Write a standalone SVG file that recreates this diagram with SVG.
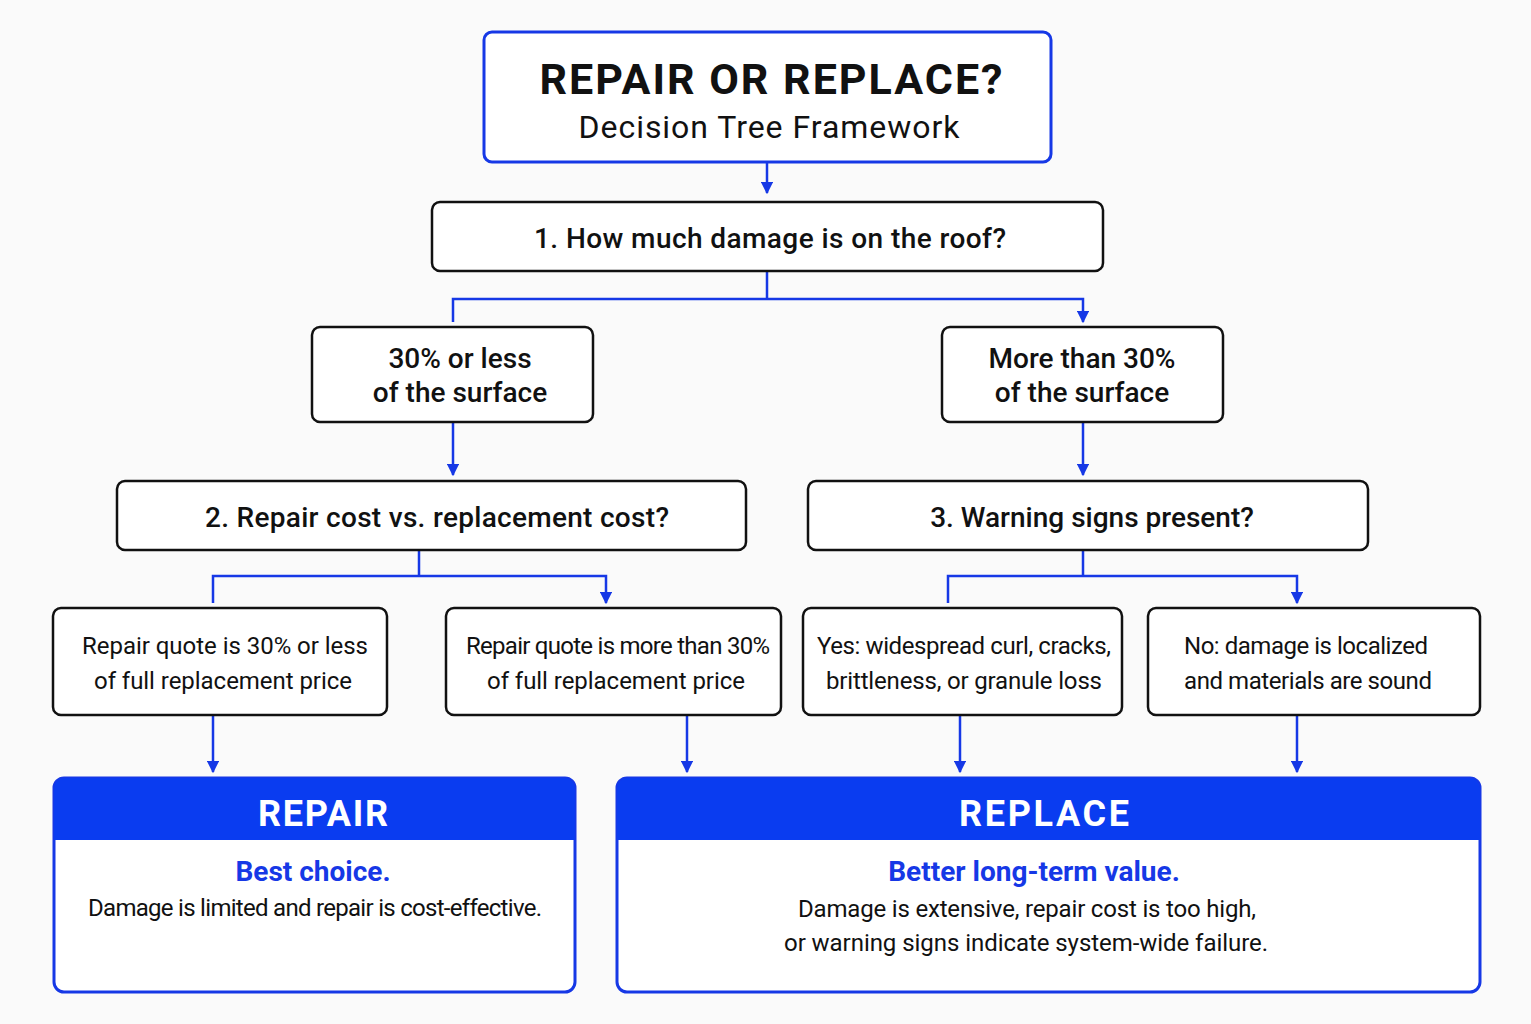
<svg xmlns="http://www.w3.org/2000/svg" width="1531" height="1024" viewBox="0 0 1531 1024">
<style>
.bx{fill:#fff;stroke:#111;stroke-width:2.5}
.bb{fill:#fff;stroke:#1638e6;stroke-width:3}
.t{font-family:Roboto,"Noto Sans",sans-serif;fill:#111;text-anchor:middle}
.c{fill:none;stroke:#1638e6;stroke-width:2.5}
</style>
<defs><marker id="a" viewBox="0 0 10 10" refX="9" refY="5" markerWidth="5" markerHeight="5" orient="auto"><path d="M0,0L10,5L0,10z" fill="#1638e6"/></marker></defs>
<rect width="1531" height="1024" fill="#fafafa"/>
<g id="connectors" class="c">
<path d="M767,162V193" marker-end="url(#a)"/>
<path d="M767,271V299H453V322M767,299H1083V322" marker-end="url(#a)"/>
<path d="M453,422V475" marker-end="url(#a)"/>
<path d="M1083,422V475" marker-end="url(#a)"/>
<path d="M419,550V576H213V603M419,576H606V603" marker-end="url(#a)"/>
<path d="M1083,550V576H948V603M1083,576H1297V603" marker-end="url(#a)"/>
<path d="M213,715V772" marker-end="url(#a)"/>
<path d="M687,715V772" marker-end="url(#a)"/>
<path d="M960,715V772" marker-end="url(#a)"/>
<path d="M1297,715V772" marker-end="url(#a)"/>
</g>
<g id="title"><rect class="bb" x="484" y="32" width="567" height="130" rx="8"/>
<text class="t" x="771" y="94" font-size="43" font-weight="bold" textLength="463">REPAIR OR REPLACE?</text>
<text class="t" x="769" y="138" font-size="32" textLength="381">Decision Tree Framework</text></g>
<g id="q1"><rect class="bx" x="432" y="202" width="671" height="69" rx="8"/>
<text class="t" x="770" y="248" font-size="28" font-weight="500" textLength="472">1. How much damage is on the roof?</text></g>
<g id="a1"><rect class="bx" x="312" y="327" width="281" height="95" rx="8"/>
<text class="t" x="460" y="368" font-size="28" font-weight="500">30% or less</text><text class="t" x="460" y="402" font-size="28" font-weight="500">of the surface</text></g>
<g id="a2"><rect class="bx" x="942" y="327" width="281" height="95" rx="8"/>
<text class="t" x="1082" y="368" font-size="28" font-weight="500">More than 30%</text><text class="t" x="1082" y="402" font-size="28" font-weight="500">of the surface</text></g>
<g id="q2"><rect class="bx" x="117" y="481" width="629" height="69" rx="8"/>
<text class="t" x="437" y="527" font-size="28" font-weight="500" textLength="464">2. Repair cost vs. replacement cost?</text></g>
<g id="q3"><rect class="bx" x="808" y="481" width="560" height="69" rx="8"/>
<text class="t" x="1092" y="527" font-size="28" font-weight="500">3. Warning signs present?</text></g>
<g id="l1"><rect class="bx" x="53" y="608" width="334" height="107" rx="8"/>
<text class="t" x="225" y="654" font-size="24" textLength="286">Repair quote is 30% or less</text><text class="t" x="223" y="689" font-size="24" textLength="258">of full replacement price</text></g>
<g id="l2"><rect class="bx" x="446" y="608" width="335" height="107" rx="8"/>
<text class="t" x="618" y="654" font-size="24" textLength="304">Repair quote is more than 30%</text><text class="t" x="616" y="689" font-size="24" textLength="258">of full replacement price</text></g>
<g id="l3"><rect class="bx" x="803" y="608" width="319" height="107" rx="8"/>
<text class="t" x="964" y="654" font-size="24" textLength="294">Yes: widespread curl, cracks,</text><text class="t" x="964" y="689" font-size="24" textLength="276">brittleness, or granule loss</text></g>
<g id="l4"><rect class="bx" x="1148" y="608" width="332" height="107" rx="8"/>
<text class="t" x="1306" y="654" font-size="24" textLength="244">No: damage is localized</text><text class="t" x="1308" y="689" font-size="24" textLength="248">and materials are sound</text></g>
<g id="repair"><rect class="bb" x="54" y="778" width="521" height="214" rx="10"/>
<path d="M54,840V788a10,10 0 0 1 10,-10H565a10,10 0 0 1 10,10V840z" fill="#0a3cf0"/>
<text class="t" x="323" y="826" font-size="36" font-weight="bold" style="fill:#fff" textLength="130">REPAIR</text>
<text class="t" x="313" y="881" font-size="28" font-weight="bold" style="fill:#1638e6">Best choice.</text>
<text class="t" x="315" y="916" font-size="24" textLength="454">Damage is limited and repair is cost-effective.</text></g>
<g id="replace"><rect class="bb" x="617" y="778" width="863" height="214" rx="10"/>
<path d="M617,840V788a10,10 0 0 1 10,-10H1470a10,10 0 0 1 10,10V840z" fill="#0a3cf0"/>
<text class="t" x="1044" y="826" font-size="36" font-weight="bold" style="fill:#fff" textLength="170">REPLACE</text>
<text class="t" x="1034" y="881" font-size="28" font-weight="bold" style="fill:#1638e6">Better long-term value.</text>
<text class="t" x="1027" y="917" font-size="24" textLength="458">Damage is extensive, repair cost is too high,</text>
<text class="t" x="1026" y="951" font-size="24" textLength="484">or warning signs indicate system-wide failure.</text></g>
</svg>
